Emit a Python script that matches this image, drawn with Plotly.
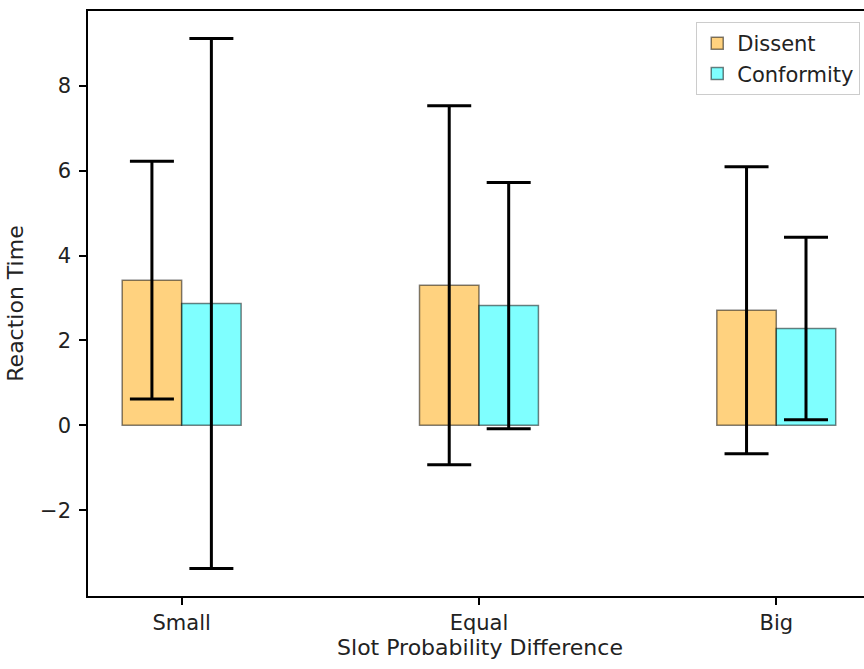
import plotly.graph_objects as go

categories = ["Small", "Equal", "Big"]
dissent_mean = [3.42, 3.30, 2.71]
dissent_err = [2.80, 4.23, 3.38]
conformity_mean = [2.87, 2.82, 2.28]
conformity_err = [6.24, 2.90, 2.15]

FONT = "DejaVu Sans"
fs = 21

fig = go.Figure()
fig.add_trace(go.Bar(
    x=categories, y=dissent_mean, name="Dissent",
    marker=dict(color="rgba(255,165,0,0.5)", line=dict(color="rgba(0,0,0,0.5)", width=1.5)),
    error_y=dict(type="data", array=dissent_err, visible=True, color="black", thickness=3, width=22),
))
fig.add_trace(go.Bar(
    x=categories, y=conformity_mean, name="Conformity",
    marker=dict(color="rgba(0,255,255,0.5)", line=dict(color="rgba(0,0,0,0.5)", width=1.5)),
    error_y=dict(type="data", array=conformity_err, visible=True, color="black", thickness=3, width=22),
))

fig.update_layout(
    width=874, height=669,
    margin=dict(l=88, r=0, t=11, b=73),
    paper_bgcolor="white", plot_bgcolor="white",
    barmode="group", bargap=0.6, bargroupgap=0,
    font=dict(family=FONT, size=fs, color="#222"),
    showlegend=True,
    legend=dict(
        x=0.985, xanchor="right", y=0.981, yanchor="top",
        bgcolor="white", bordercolor="#cccccc", borderwidth=1,
        font=dict(family=FONT, size=fs, color="#222"),
    ),
)
fig.update_xaxes(
    range=[-0.315, 2.322], showline=True, linecolor="black", linewidth=1.5, mirror=True,
    ticks="outside", ticklen=7, tickwidth=1.5, tickcolor="black", showgrid=False,
    title=dict(text="Slot Probability Difference", font=dict(family=FONT, size=22), standoff=6),
)
fig.update_yaxes(
    range=[-4.02, 9.76], showline=True, linecolor="black", linewidth=1.5, mirror=True,
    ticks="outside", ticklen=7, tickwidth=1.5, tickcolor="black", showgrid=False, zeroline=False,
    tickvals=[-2, 0, 2, 4, 6, 8], ticklabelstandoff=4,
    title=dict(text="Reaction Time", font=dict(family=FONT, size=22), standoff=10),
)

fig.write_html(
    "out.html",
    config={"displayModeBar": False},
    post_script="document.documentElement.style.overflow='hidden';document.body.style.margin='0';document.body.style.overflow='hidden';",
)
